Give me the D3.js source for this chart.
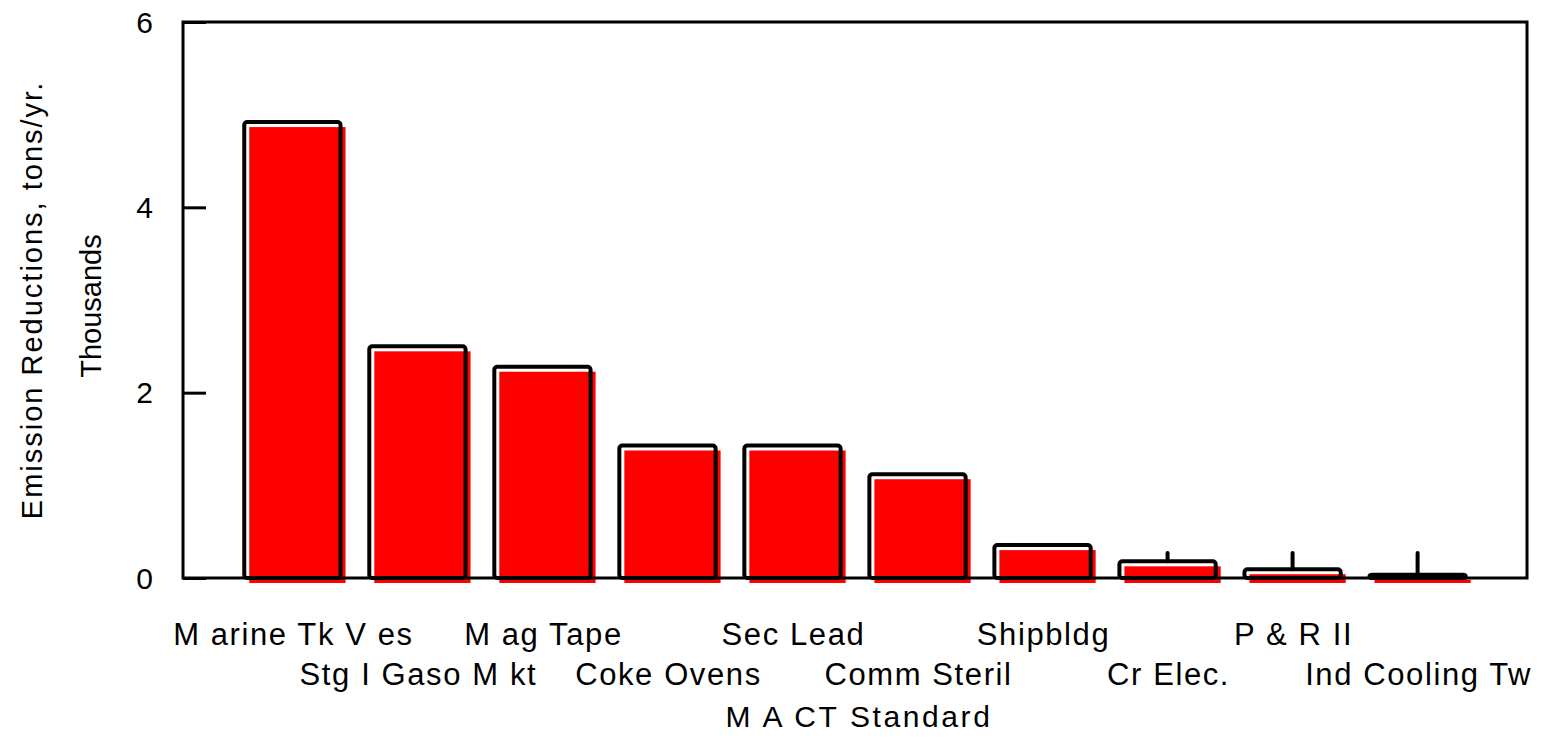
<!DOCTYPE html>
<html>
<head>
<meta charset="utf-8">
<script src="https://cdn.jsdelivr.net/npm/d3@7"></script>
<style>
  html, body { margin: 0; padding: 0; background: #fff; }
  svg { display: block; font-family: "Liberation Sans", Arial, sans-serif; }
</style>
</head>
<body>
<svg id="chart" width="1541" height="738"></svg>
<script>
// MACT standards and their emission reductions (thousand tons per year)
const categories = [
  "M arine Tk V es", "Stg I Gaso M kt", "M ag Tape", "Coke Ovens", "Sec Lead",
  "Comm Steril", "Shipbldg", "Cr Elec.", "P & R II", "Ind Cooling Tw"
];
const reductions = [4.92, 2.50, 2.28, 1.43, 1.43, 1.12, 0.355, 0.18, 0.095, 0.035];
// Standards drawn with a small upright marker above the bar
const markedStandards = ["Cr Elec.", "P & R II", "Ind Cooling Tw"];
const yTicks = [0, 2, 4, 6];
const xTitle = "M A CT Standard";
const yTitle1 = "Emission Reductions, tons/yr.";
const yTitle2 = "Thousands";

const svg = d3.select("#chart");
const margin = { left: 183, right: 14, top: 22, bottom: 160 };
const W = 1541, H = 738;
const plotL = margin.left, plotR = W - margin.right;
const plotT = margin.top, plotB = H - margin.bottom;

const x = d3.scaleBand()
  .domain(categories)
  .range([plotL, plotR])
  .paddingInner(0.23)
  .paddingOuter(0.49);

const y = d3.scaleLinear().domain([0, 6]).range([plotB, plotT]);

const shift = 5; // red fill sits slightly right/below the outline

// red fills
svg.append("g").selectAll("rect")
  .data(categories)
  .join("rect")
  .attr("x", (d) => x(d) + shift)
  .attr("y", (d, i) => y(reductions[i]) + shift)
  .attr("width", x.bandwidth())
  .attr("height", (d, i) => plotB - y(reductions[i]))
  .attr("fill", "#ff0000");

// frame
svg.append("rect")
  .attr("x", plotL).attr("y", plotT)
  .attr("width", plotR - plotL).attr("height", plotB - plotT)
  .attr("fill", "none").attr("stroke", "#000").attr("stroke-width", 3);

// black outlines
svg.append("g").selectAll("rect")
  .data(categories)
  .join("rect")
  .attr("x", (d) => x(d))
  .attr("y", (d, i) => y(reductions[i]))
  .attr("width", x.bandwidth())
  .attr("height", (d, i) => plotB - y(reductions[i]))
  .attr("rx", 3)
  .attr("fill", "none")
  .attr("stroke", "#000")
  .attr("stroke-width", 4)
  .attr("stroke-linejoin", "round");

// upright markers
svg.append("g").selectAll("line")
  .data(markedStandards)
  .join("line")
  .attr("x1", (d) => x(d) + x.bandwidth() / 2)
  .attr("x2", (d) => x(d) + x.bandwidth() / 2)
  .attr("y1", y(0.27))
  .attr("y2", (d) => y(reductions[categories.indexOf(d)]))
  .attr("stroke", "#000")
  .attr("stroke-width", 4)
  .attr("stroke-linecap", "round");

// y axis ticks pointing into the plot
const yAxis = d3.axisRight(y).tickValues(yTicks).tickSize(23).tickFormat("");
const gy = svg.append("g").attr("transform", `translate(${plotL},0)`).call(yAxis);
gy.select(".domain").remove();
gy.selectAll(".tick line").attr("stroke", "#000").attr("stroke-width", 3);

svg.append("g").selectAll("text")
  .data(yTicks)
  .join("text")
  .attr("x", 153)
  .attr("y", (d) => y(d))
  .attr("dy", "0.36em")
  .attr("text-anchor", "end")
  .attr("font-size", 30)
  .text((d) => d);

// category labels, staggered on two rows
svg.append("g").selectAll("text")
  .data(categories)
  .join("text")
  .attr("x", (d) => x(d) + x.bandwidth() / 2 + 1)
  .attr("y", (d, i) => (i % 2 === 0 ? 645 : 685))
  .attr("text-anchor", "middle")
  .attr("font-size", 31)
  .attr("letter-spacing", 1.6)
  .text((d) => d);

svg.append("text")
  .attr("x", (plotL + plotR) / 2 + 4)
  .attr("y", 727)
  .attr("text-anchor", "middle")
  .attr("font-size", 30)
  .attr("letter-spacing", 2.6)
  .text(xTitle);

svg.append("text")
  .attr("transform", `translate(42,${(plotT + plotB) / 2}) rotate(-90)`)
  .attr("text-anchor", "middle")
  .attr("font-size", 29)
  .attr("letter-spacing", 2)
  .text(yTitle1);

svg.append("text")
  .attr("transform", `translate(101,${(plotT + plotB) / 2 + 6}) rotate(-90)`)
  .attr("text-anchor", "middle")
  .attr("font-size", 29)
  .text(yTitle2);
</script>
</body>
</html>
